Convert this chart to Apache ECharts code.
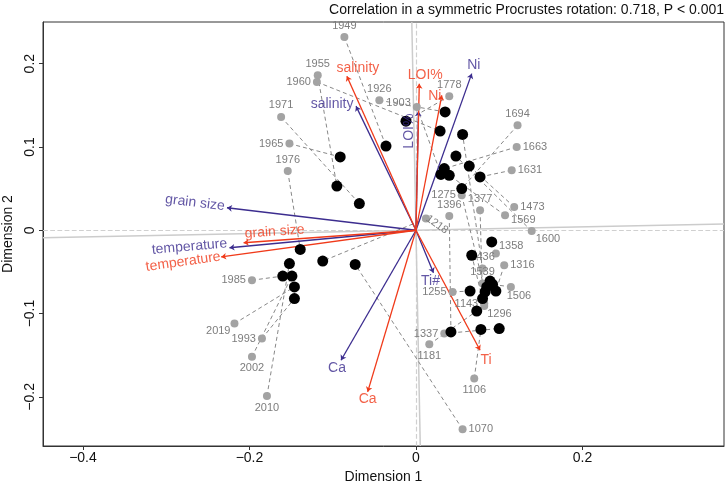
<!DOCTYPE html>
<html><head><meta charset="utf-8">
<script src="https://cdn.jsdelivr.net/npm/echarts@6/dist/echarts.min.js"></script>
<style>html,body{margin:0;padding:0;background:#fff}#c{width:726px;height:486px}</style>
</head><body><div id="c"></div>
<script>
// ---- data ----
const years = ['1949','1955','1960','1926','1903','1971','1965','1976','1985','2019','1993','2002','2010',
  '1778','1694','1663','1631','1473','1569','1600','1377','1275','1396','1218','1358','1436','1316','1539',
  '1506','1255','1143','1296','1337','1181','1106','1070'];
// target configuration (grey, labelled)
const targetX = [-0.086,-0.118,-0.119,-0.044,0.001,-0.162,-0.152,-0.154,-0.197,-0.218,-0.185,-0.197,-0.179,
  0.040,0.122,0.121,0.115,0.118,0.107,0.139,0.077,0.055,0.040,0.012,0.096,0.080,0.106,0.080,
  0.114,0.044,0.082,0.082,0.034,0.016,0.070,0.056];
const targetY = [0.232,0.186,0.178,0.156,0.148,0.136,0.104,0.071,-0.060,-0.112,-0.130,-0.152,-0.199,
  0.161,0.126,0.100,0.072,0.028,0.018,-0.001,0.024,0.042,0.017,0.014,-0.028,-0.046,-0.042,-0.064,
  -0.068,-0.074,-0.088,-0.091,-0.124,-0.137,-0.178,-0.239];
// rotated configuration (black)
const rotatedX = [-0.036,-0.095,0.029,0.035,0.030,-0.068,-0.091,-0.139,-0.160,-0.146,-0.146,-0.149,-0.152,
  -0.012,0.055,0.034,0.077,0.064,0.040,0.048,0.080,0.083,0.042,-0.112,0.091,0.056,0.096,0.089,
  0.092,0.065,0.085,0.067,0.100,0.073,0.078,-0.073];
const rotatedY = [0.101,0.053,0.119,0.142,0.067,0.032,0.088,-0.023,-0.055,-0.068,-0.082,-0.055,-0.040,
  0.131,0.050,0.074,0.064,0.077,0.066,0.089,-0.082,-0.074,-0.122,-0.037,-0.014,0.115,-0.073,-0.061,
  -0.065,-0.073,-0.068,-0.030,-0.118,-0.097,-0.119,-0.041];
// environmental vectors, first set (blue)
const blueNames = ['Ni','salinity','LOI%','grain size','temperature','Ca','Ti#'];
const blueX = [0.067,-0.072,0.003,-0.227,-0.224,-0.090,0.021];
const blueY = [0.188,0.149,0.143,0.027,-0.021,-0.156,-0.051];
// environmental vectors, second set (red)
const redNames = ['salinity','LOI%','Ni','grain size','temperature','Ca','Ti'];
const redX = [-0.083,0.004,0.031,-0.207,-0.234,-0.058,0.077];
const redY = [0.185,0.176,0.162,-0.015,-0.032,-0.194,-0.144];
const xTicks = [-0.4,-0.2,0,0.2];
const yTicks = [-0.2,-0.1,0,0.1,0.2];
const rotationSlope = 0.02;
const titleText = 'Correlation in a symmetric Procrustes rotation: 0.718, P < 0.001';

// ---- styles ----
const X_MIN = -0.448, X_MAX = 0.37, Y_MIN = -0.259, Y_MAX = 0.25;
const BLUE = '#3c2d8f', RED = '#f03a1a';
const FONT = 'Liberation Sans, Arial, sans-serif';
// screen offset (px) -> label-local offset for a rotated label
function localOffset(dx, dy, rotDeg){
  const r = rotDeg*Math.PI/180, c = Math.cos(r), s = Math.sin(r);
  return [dx*c - dy*s, dx*s + dy*c];
}
const yearLabelStyle = {
  '1949':['top'],'1955':['top'],'1960':['left'],'1926':['top'],'1903':['left',[0,-4]],'1971':['top'],
  '1965':['left'],'1976':['top'],'1985':['left'],'2019':['left',[2,7]],'1993':['left'],'2002':['bottom'],
  '2010':['bottom'],'1778':['top'],'1694':['top'],'1663':['right'],'1631':['right'],'1473':['right'],
  '1569':['right',[0,5]],'1600':['right',[-2,8]],'1377':['top'],'1275':['left'],'1396':['top'],
  '1218':['inside',[11,6],-35],'1358':['right',[-3,-8]],'1436':['top'],'1316':['right'],'1539':['top'],
  '1506':['bottom',[8,-2]],'1255':['left'],'1143':['left'],'1296':['right',[-3,8]],'1337':['left'],
  '1181':['bottom'],'1106':['bottom'],'1070':['right']
};
// screen offset of each vector label centre from the arrow tip (px) and rotation
const blueLabelStyle = [[2,-9,0],[-24,-2,0],[-9,20,90],[-32,-5,-7],[-40,-1,5],[-4,8,0],[-3,8,0]];
const redLabelStyle = [[11,-8,0],[6,-9,0],[-7,1,0],[31,-11,4],[-38,5,8],[0,7,0],[6,10,0]];

const connectors = years.map((y,i)=>({coords:[[targetX[i],targetY[i]],[rotatedX[i],rotatedY[i]]]}));
const greyPts = years.map((y,i)=>{
  const s = yearLabelStyle[y] || ['top'];
  const off = s[1]||[0,0], rot = s[2]||0;
  return {value:[targetX[i],targetY[i]], name:y,
    label:{position:s[0], offset:localOffset(off[0],off[1],rot), rotate:rot, distance:2}};
});
const blackPts = years.map((y,i)=>[rotatedX[i],rotatedY[i]]);
function arrows(xs,ys){return xs.map((x,i)=>({coords:[[0,0],[x,ys[i]]]}));}
function vecLabels(names,xs,ys,st,color){
  return {type:'scatter', symbolSize:0, silent:true, z:6,
    data:names.map((n,i)=>({value:[xs[i],ys[i]], name:n,
      label:{show:true, position:'inside', offset:localOffset(st[i][0],st[i][1],st[i][2]), rotate:st[i][2],
        formatter:n, color:color, fontSize:14, fontFamily:FONT}}))};
}
const hLine = [[X_MIN,X_MIN*rotationSlope],[X_MAX,X_MAX*rotationSlope]];
const vLine = [[-Y_MAX*rotationSlope,Y_MAX],[-Y_MIN*rotationSlope,Y_MIN]];
const minus = v => (v<0?'\u2212':'') + Math.abs(v);

const chart = echarts.init(document.getElementById('c'), null, {renderer:'canvas'});
chart.setOption({
  animation:false,
  backgroundColor:'#fff',
  title:{text:titleText, right:2, top:3, padding:0, textStyle:{fontSize:14, fontWeight:'normal', color:'#111', fontFamily:FONT}},
  grid:{left:43, right:2, top:22, bottom:40, show:true, borderColor:'#333', borderWidth:1, outerBoundsMode:'none'},
  xAxis:{type:'value', min:X_MIN, max:X_MAX, name:'Dimension 1', nameLocation:'middle', nameGap:21,
    nameTextStyle:{fontSize:14, color:'#111', fontFamily:FONT},
    axisLine:{show:true, onZero:false, lineStyle:{color:'#333', width:1}},
    axisTick:{show:true, length:4, customValues:xTicks, lineStyle:{color:'#333'}},
    axisLabel:{customValues:xTicks, fontSize:14, color:'#111', margin:5, fontFamily:FONT, formatter:minus},
    splitLine:{show:false}},
  yAxis:{type:'value', min:Y_MIN, max:Y_MAX, name:'Dimension 2', nameLocation:'middle', nameGap:24, nameRotate:90,
    nameTextStyle:{fontSize:14, color:'#111', fontFamily:FONT},
    axisLine:{show:true, onZero:false, lineStyle:{color:'#333', width:1}},
    axisTick:{show:true, length:4, customValues:yTicks, lineStyle:{color:'#333'}},
    axisLabel:{customValues:yTicks, rotate:90, fontSize:14, color:'#111', margin:6, fontFamily:FONT, formatter:minus},
    splitLine:{show:false}},
  series:[
    {type:'lines', coordinateSystem:'cartesian2d', silent:true, z:1,
      lineStyle:{color:'#d0d0d0', width:1.2, type:'dashed', opacity:1},
      data:[{coords:[[X_MIN,0],[X_MAX,0]]},{coords:[[0,Y_MIN],[0,Y_MAX]]}]},
    {type:'lines', coordinateSystem:'cartesian2d', silent:true, z:1,
      lineStyle:{color:'#cccccc', width:1.5, type:'solid', opacity:1},
      data:[{coords:hLine},{coords:vLine}]},
    {type:'lines', coordinateSystem:'cartesian2d', silent:true, z:2,
      lineStyle:{color:'#888888', width:1, type:[4,3], opacity:1}, data:connectors},
    {type:'lines', coordinateSystem:'cartesian2d', silent:true, z:3, symbol:['none','arrow'], symbolSize:5,
      lineStyle:{color:BLUE, width:1.3, opacity:1}, data:arrows(blueX,blueY)},
    {type:'lines', coordinateSystem:'cartesian2d', silent:true, z:3, symbol:['none','arrow'], symbolSize:5,
      lineStyle:{color:RED, width:1.3, opacity:1}, data:arrows(redX,redY)},
    {type:'scatter', symbolSize:8, z:4, itemStyle:{color:'#a3a3a3', opacity:1},
      label:{show:true, formatter:'{b}', fontSize:11, color:'#7d7d7d', fontFamily:FONT},
      data:greyPts},
    {type:'scatter', symbolSize:11, z:5, itemStyle:{color:'#000', opacity:1}, data:blackPts},
    vecLabels(blueNames,blueX,blueY,blueLabelStyle,BLUE),
    vecLabels(redNames,redX,redY,redLabelStyle,RED)
  ]
});
</script></body></html>
